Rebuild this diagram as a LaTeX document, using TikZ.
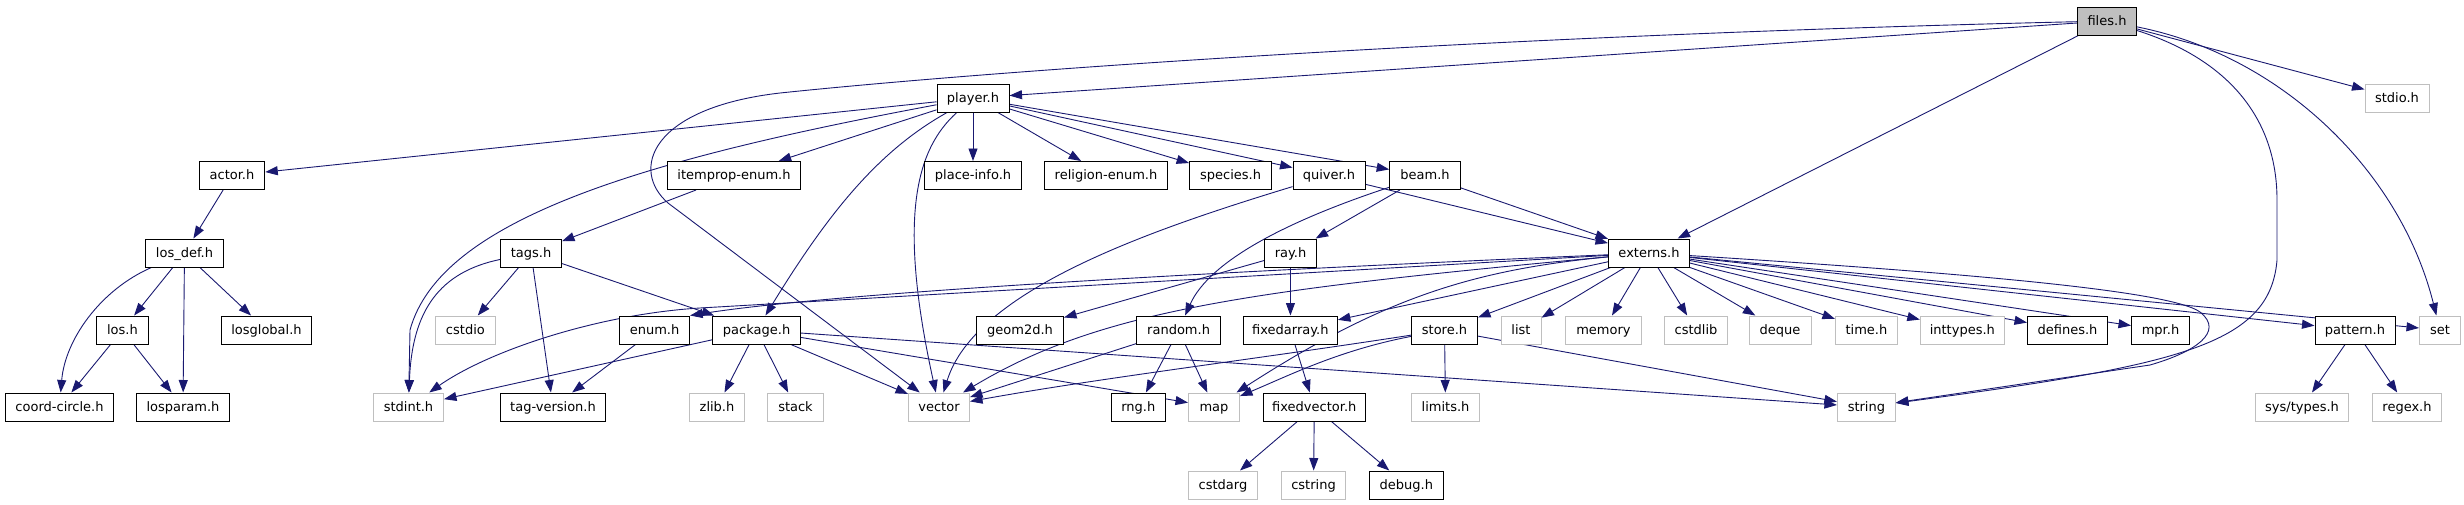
\documentclass[tikz,border=0pt]{standalone}
\usepackage{fontspec}
\setmainfont{DejaVu Sans}
\usetikzlibrary{arrows.meta}
\definecolor{edgeblue}{HTML}{191970}
\definecolor{gline}{HTML}{BFBFBF}
\pgfdeclarelayer{bg}
\pgfsetlayers{bg,main}
\begin{document}
\begin{tikzpicture}[x=1pt,y=-1pt,
  box/.style={draw=black, line width=1pt, fill=white, rectangle, inner sep=0pt,
    minimum height=28pt, text height=10pt, text depth=1.4pt,
    font=\fontsize{13}{15}\selectfont},
  gbox/.style={box, draw=gline},
  rootbox/.style={box, fill=gline},
  edge/.style={draw=edgeblue, line width=0.9pt, -{Triangle[length=12.5pt,width=9pt]}}]
\useasboundingbox (0,0) rectangle (2464,504);
% row 0
\node[rootbox, minimum width=58.5pt] (files) at (2107,21) {files.h};
% row 1
\node[gbox, minimum width=64pt] (stdio) at (2397,98) {stdio.h};
\node[box, minimum width=72pt] (player) at (973,98) {player.h};
% row 2
\node[box, minimum width=65.5pt] (actor) at (232,175.5) {actor.h};
\node[box, minimum width=133.5pt] (itemprop) at (734,175.5) {itemprop-enum.h};
\node[box, minimum width=96.5pt] (placeinfo) at (973,175.5) {place-info.h};
\node[box, minimum width=122.4pt] (religion) at (1106,175.5) {religion-enum.h};
\node[box, minimum width=82pt] (species) at (1230.6,175.5) {species.h};
\node[box, minimum width=72pt] (quiver) at (1329,175.5) {quiver.h};
\node[box, minimum width=70.6pt] (beam) at (1425,175.5) {beam.h};
% row 3
\node[box, minimum width=78pt] (losdef) at (184.5,253) {los\_def.h};
\node[box, minimum width=61pt] (tags) at (531,253) {tags.h};
\node[box, minimum width=52pt] (ray) at (1290.5,253) {ray.h};
\node[box, minimum width=81pt] (externs) at (1649,253) {externs.h};
% row 4
\node[box, minimum width=52pt] (los) at (122.4,330) {los.h};
\node[box, minimum width=90pt] (losglobal) at (266.5,330) {losglobal.h};
\node[gbox, minimum width=60pt] (cstdio) at (465.4,330) {cstdio};
\node[box, minimum width=70pt] (enum) at (654.6,330) {enum.h};
\node[box, minimum width=88pt] (package) at (756.6,330) {package.h};
\node[box, minimum width=87pt] (geom2d) at (1020,330) {geom2d.h};
\node[box, minimum width=84pt] (random) at (1178.6,330) {random.h};
\node[box, minimum width=94pt] (fixedarray) at (1290.4,330) {fixedarray.h};
\node[box, minimum width=66pt] (store) at (1444.5,330) {store.h};
\node[gbox, minimum width=40pt] (list) at (1521,330) {list};
\node[gbox, minimum width=76pt] (memory) at (1603.4,330) {memory};
\node[gbox, minimum width=63pt] (cstdlib) at (1696,330) {cstdlib};
\node[gbox, minimum width=62pt] (deque) at (1780,330) {deque};
\node[gbox, minimum width=62pt] (time) at (1866.4,330) {time.h};
\node[gbox, minimum width=84pt] (inttypes) at (1962.3,330) {inttypes.h};
\node[box, minimum width=80pt] (defines) at (2067.5,330) {defines.h};
\node[box, minimum width=58pt] (mpr) at (2160.5,330) {mpr.h};
\node[box, minimum width=80pt] (pattern) at (2355,330) {pattern.h};
\node[gbox, minimum width=41pt] (set) at (2440,330) {set};
% row 5
\node[box, minimum width=108pt] (coord) at (59.5,407) {coord-circle.h};
\node[box, minimum width=93pt] (losparam) at (183,407) {losparam.h};
\node[gbox, minimum width=70pt] (stdint) at (408.5,407) {stdint.h};
\node[box, minimum width=105pt] (tagversion) at (553,407) {tag-version.h};
\node[gbox, minimum width=55pt] (zlib) at (717,407) {zlib.h};
\node[gbox, minimum width=56.5pt] (stack) at (795.5,407) {stack};
\node[gbox, minimum width=61pt] (vector) at (939,407) {vector};
\node[box, minimum width=54pt] (rng) at (1138.3,407) {rng.h};
\node[gbox, minimum width=51pt] (map) at (1214,407) {map};
\node[box, minimum width=102pt] (fixedvector) at (1314.3,407) {fixedvector.h};
\node[gbox, minimum width=68pt] (limits) at (1445.5,407) {limits.h};
\node[gbox, minimum width=58pt] (string) at (1866.4,407) {string};
\node[gbox, minimum width=93pt] (systypes) at (2302,407) {sys/types.h};
\node[gbox, minimum width=69pt] (regex) at (2407,407) {regex.h};
% row 6
\node[gbox, minimum width=69pt] (cstdarg) at (1223,485) {cstdarg};
\node[gbox, minimum width=64pt] (cstring) at (1313.5,485) {cstring};
\node[box, minimum width=74pt] (debug) at (1406.4,485) {debug.h};

\begin{pgfonlayer}{bg}
% files.h
\draw[edge] (files) -- (player);
\draw[edge] (files) .. controls (1500,35) and (1000,70) .. (780,93) .. controls (650,108) and (630,170) .. (668,203) -- (vector);
\draw[edge] (files) -- (externs);
\draw[edge] (files) -- (stdio);
\draw[edge] (files) .. controls (2230,60) and (2277,120) .. (2277,200) -- (2277,260) .. controls (2270,345) and (2180,365) .. (string);
\draw[edge] (files) .. controls (2280,55) and (2400,170) .. (set);
% player.h
\draw[edge] (player) -- (actor);
\draw[edge] (player) -- (itemprop);
\draw[edge] (player) -- (placeinfo);
\draw[edge] (player) -- (religion);
\draw[edge] (player) -- (species);
\draw[edge] (player) -- (quiver);
\draw[edge] (player) -- (beam);
\draw[edge] (player) .. controls (640,160) and (440,220) .. (410,330) -- (stdint);
\draw[edge] (player) .. controls (880,150) and (830,210) .. (package);
\draw[edge] (player) .. controls (915,150) and (898,220) .. (vector);
% los
\draw[edge] (actor) -- (losdef);
\draw[edge] (losdef) .. controls (100,290) and (65,340) .. (coord);
\draw[edge] (losdef) -- (los);
\draw[edge] (losdef) -- (losparam);
\draw[edge] (losdef) -- (losglobal);
\draw[edge] (los) -- (coord);
\draw[edge] (los) -- (losparam);
% tags
\draw[edge] (itemprop) -- (tags);
\draw[edge] (tags) .. controls (440,272) and (412,310) .. (stdint);
\draw[edge] (tags) -- (cstdio);
\draw[edge] (tags) -- (tagversion);
\draw[edge] (tags) -- (package);
% quiver, beam, ray
\draw[edge] (quiver) .. controls (1150,230) and (975,290) .. (vector);
\draw[edge] (quiver) -- (externs);
\draw[edge] (beam) -- (ray);
\draw[edge] (beam) .. controls (1290,220) and (1210,260) .. (random);
\draw[edge] (beam) -- (externs);
\draw[edge] (ray) -- (geom2d);
\draw[edge] (ray) -- (fixedarray);
% externs.h
\draw[edge] (externs) .. controls (1300,268) and (850,290) .. (enum.north east);
\draw[edge] (externs) -- (700,308) .. controls (600,314) and (490,350) .. (stdint);
\draw[edge] (externs) .. controls (1250,290) and (1100,310) .. (vector);
\draw[edge] (externs) .. controls (1470,270) and (1380,300) .. (map);
\draw[edge] (externs) -- (fixedarray);
\draw[edge] (externs) -- (store);
\draw[edge] (externs) -- (list);
\draw[edge] (externs) -- (memory);
\draw[edge] (externs) -- (cstdlib);
\draw[edge] (externs) -- (deque);
\draw[edge] (externs) -- (time);
\draw[edge] (externs) -- (inttypes);
\draw[edge] (externs) -- (defines);
\draw[edge] (externs) -- (mpr);
\draw[edge] (externs) -- (pattern);
\draw[edge] (externs) -- (set);
\draw[edge] (externs) .. controls (1950,272) and (2170,290) .. (2200,312) .. controls (2225,332) and (2195,352) .. (2150,365) -- (string);
% others
\draw[edge] (enum) -- (tagversion);
\draw[edge] (package) -- (stdint);
\draw[edge] (package) -- (zlib);
\draw[edge] (package) -- (stack);
\draw[edge] (package) -- (vector);
\draw[edge] (package) -- (map);
\draw[edge] (package) -- (string);
\draw[edge] (random) -- (rng);
\draw[edge] (random) -- (map);
\draw[edge] (random) -- (vector);
\draw[edge] (fixedarray) -- (fixedvector);
\draw[edge] (fixedvector) -- (cstdarg);
\draw[edge] (fixedvector) -- (cstring);
\draw[edge] (fixedvector) -- (debug);
\draw[edge] (store) .. controls (1340,350) and (1290,375) .. (map);
\draw[edge] (store) .. controls (1250,360) and (1100,378) .. (vector);
\draw[edge] (store) -- (limits);
\draw[edge] (store) -- (string);
\draw[edge] (pattern) -- (systypes);
\draw[edge] (pattern) -- (regex);
\end{pgfonlayer}
\end{tikzpicture}
\end{document}
